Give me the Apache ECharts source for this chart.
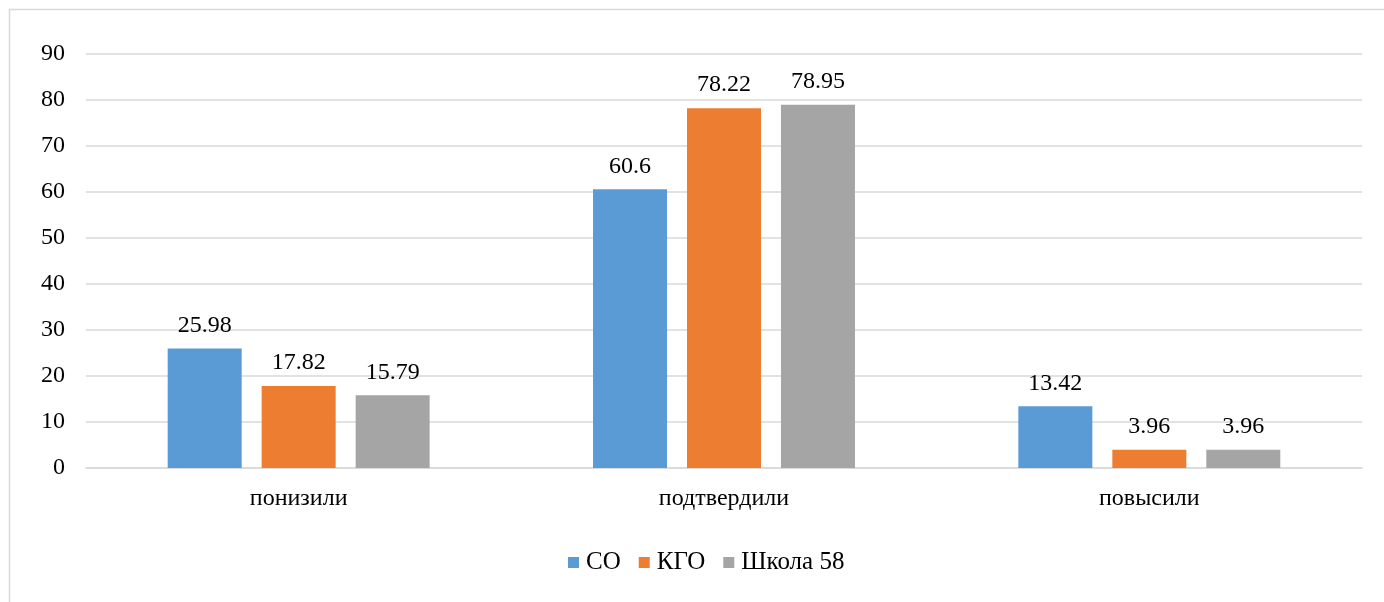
<!DOCTYPE html>
<html>
<head>
<meta charset="utf-8">
<script src="https://cdn.jsdelivr.net/npm/echarts@6/dist/echarts.min.js"></script>
<style>
html,body{margin:0;padding:0;background:#fff;}
#c{width:1384px;height:602px;}
</style>
</head>
<body>
<div id="c"></div>
<script>
const categories = ['понизили', 'подтвердили', 'повысили'];
const seriesNames = ['СО', 'КГО', 'Школа 58'];
const valuesSO = [25.98, 60.6, 13.42];
const valuesKGO = [17.82, 78.22, 3.96];
const valuesSchool = [15.79, 78.95, 3.96];
const colors = ['#5B9BD5', '#ED7D31', '#A5A5A5'];

const font = '"Liberation Serif", "Times New Roman", serif';
const fs = 24;
const chart = echarts.init(document.getElementById('c'));
const data = [valuesSO, valuesKGO, valuesSchool];
chart.setOption({
  backgroundColor: '#fff',
  animation: false,
  textStyle: { fontFamily: font },
  graphic: [{
    type: 'rect', left: 7, top: 7, z: -1,
    shape: { width: 1400, height: 620 },
    style: { fill: 'none', stroke: '#d9d9d9', lineWidth: 1.5 }
  }],
  grid: { left: 86, right: 22, top: 54, bottom: 134, containLabel: false },
  legend: {
    bottom: 22, left: 563,
    itemWidth: 11, itemHeight: 11, itemGap: 18,
    icon: 'rect',
    textStyle: { fontFamily: font, fontSize: 25, color: '#000', padding: [0, 0, 0, 2] },
    data: seriesNames
  },
  xAxis: {
    type: 'category', data: categories,
    axisLine: { lineStyle: { color: '#d9d9d9', width: 1.5 } },
    axisTick: { show: false },
    axisLabel: { fontFamily: font, fontSize: fs, color: '#000', margin: 19 }
  },
  yAxis: {
    type: 'value', min: 0, max: 90, interval: 10,
    axisLine: { show: false }, axisTick: { show: false },
    splitLine: { lineStyle: { color: '#d9d9d9', width: 1.5 } },
    axisLabel: { fontFamily: font, fontSize: fs, color: '#000', margin: 21 }
  },
  series: seriesNames.map((n, i) => ({
    name: n, type: 'bar', data: data[i],
    barWidth: 74, barGap: '27%',
    itemStyle: { color: colors[i] },
    label: { show: true, position: 'top', distance: 11, fontFamily: font, fontSize: fs, color: '#000' }
  }))
});
</script>
</body>
</html>
